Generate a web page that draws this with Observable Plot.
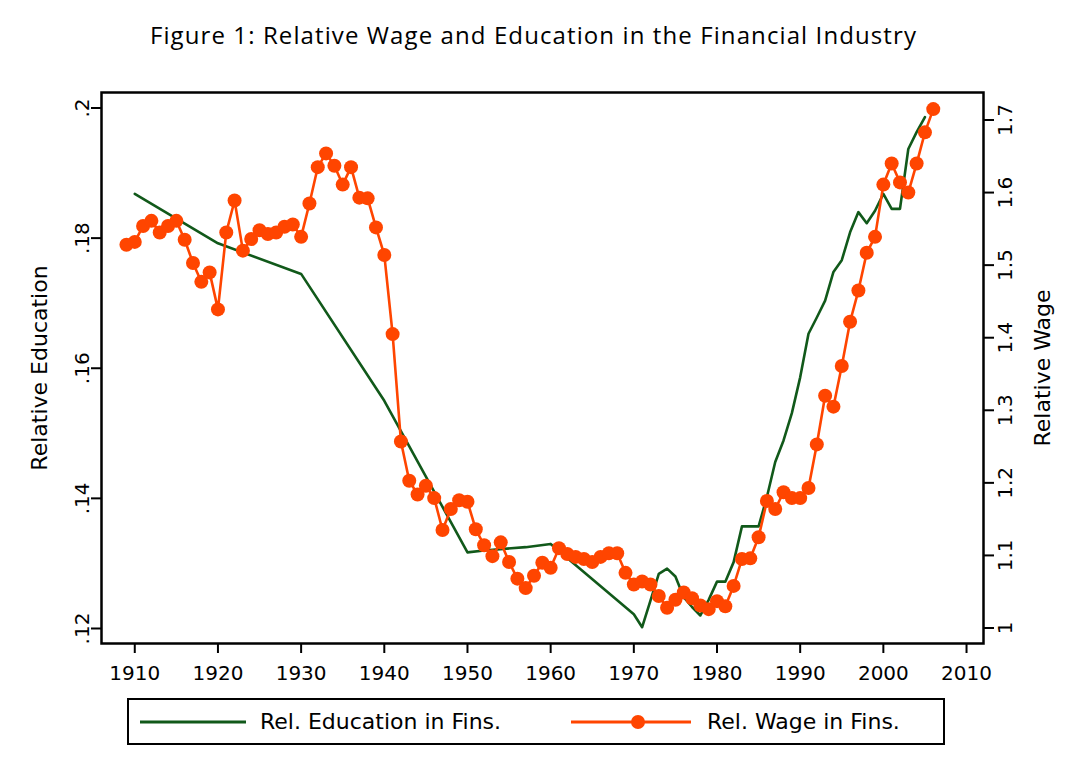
<!DOCTYPE html>
<html>
<head>
<meta charset="utf-8">
<script src="https://cdn.jsdelivr.net/npm/d3@7"></script>
<script src="https://cdn.jsdelivr.net/npm/@observablehq/plot@0.6"></script>
<style>
  body { margin: 0; background: #fff; }
  #wrap { position: relative; width: 1067px; height: 772px; background: #fff; overflow: hidden; }
  #title { position: absolute; left: 0; top: 20px; width: 1067px; text-align: center;
           font-family: "Open Sans", Lato, sans-serif; font-size: 24px; letter-spacing: 1.1px; line-height: 30px; color: #000; }
  #chart { position: absolute; left: 0; top: 60px; }
  #legend { position: absolute; left: 127px; top: 698px; width: 818px; height: 47px; box-sizing: border-box;
            border: 2px solid #000; font-family: "DejaVu Sans", sans-serif; font-size: 22px; color: #000; }
  #legend .item { position: absolute; top: 0; height: 43px; display: flex; align-items: center; }
  #legend svg { display: block; }
</style>
</head>
<body>
<div id="wrap">
  <div id="title">Figure 1: Relative Wage and Education in the Financial Industry</div>
  <div id="chart"></div>
  <div id="legend">
    <div class="item" style="left:10px;">
      <svg width="108" height="10"><line x1="1" x2="107" y1="5" y2="5" stroke="#11591a" stroke-width="3"/></svg>
    </div>
    <div class="item" style="left:131px;">Rel. Education in Fins.</div>
    <div class="item" style="left:441px;">
      <svg width="122" height="16"><line x1="1" x2="121" y1="8" y2="8" stroke="#ff4500" stroke-width="3"/><circle cx="68" cy="8" r="7" fill="#ff4500"/></svg>
    </div>
    <div class="item" style="left:578px;">Rel. Wage in Fins.</div>
  </div>
</div>
<script>
// ---- data ----
const eduYears = [1910, 1920, 1930, 1940, 1950, 1952, 1957, 1960, 1970, 1971, 1972, 1973, 1974, 1975, 1976, 1977, 1978, 1979,
  1980, 1981, 1982, 1983, 1984, 1985, 1986, 1987, 1988, 1989, 1990, 1991, 1992, 1993, 1994, 1995, 1996, 1997, 1998, 1999,
  2000, 2001, 2002, 2003, 2004, 2005];
const eduValues = [0.1868, 0.1792, 0.1745, 0.1550, 0.1317, 0.1320, 0.1325, 0.1330, 0.1222, 0.1202, 0.1243, 0.1284, 0.1292, 0.1280, 0.1248, 0.1233, 0.1220, 0.1244,
  0.1272, 0.1272, 0.1302, 0.1357, 0.1357, 0.1357, 0.1402, 0.1456, 0.1489, 0.1531, 0.1586, 0.1653, 0.1678, 0.1704, 0.1748, 0.1766, 0.1809, 0.1840, 0.1823, 0.1842,
  0.1868, 0.1845, 0.1845, 0.1937, 0.1963, 0.1986];

const wageYears = [1909, 1910, 1911, 1912, 1913, 1914, 1915, 1916, 1917, 1918, 1919,
  1920, 1921, 1922, 1923, 1924, 1925, 1926, 1927, 1928, 1929,
  1930, 1931, 1932, 1933, 1934, 1935, 1936, 1937, 1938, 1939,
  1940, 1941, 1942, 1943, 1944, 1945, 1946, 1947, 1948, 1949,
  1950, 1951, 1952, 1953, 1954, 1955, 1956, 1957, 1958, 1959,
  1960, 1961, 1962, 1963, 1964, 1965, 1966, 1967, 1968, 1969,
  1970, 1971, 1972, 1973, 1974, 1975, 1976, 1977, 1978, 1979,
  1980, 1981, 1982, 1983, 1984, 1985, 1986, 1987, 1988, 1989,
  1990, 1991, 1992, 1993, 1994, 1995, 1996, 1997, 1998, 1999,
  2000, 2001, 2002, 2003, 2004, 2005, 2006];
const wageValues = [1.528, 1.532, 1.554, 1.561, 1.545, 1.554, 1.561, 1.535, 1.503, 1.477, 1.490,
  1.439, 1.545, 1.589, 1.520, 1.536, 1.548, 1.543, 1.545, 1.553, 1.556,
  1.539, 1.585, 1.635, 1.654, 1.637, 1.611, 1.635, 1.593, 1.592, 1.552,
  1.514, 1.405, 1.257, 1.203, 1.184, 1.196, 1.179, 1.135, 1.164, 1.176,
  1.174, 1.136, 1.114, 1.099, 1.118, 1.091, 1.068, 1.055, 1.072, 1.090,
  1.083, 1.110, 1.102, 1.098, 1.095, 1.091, 1.098, 1.103, 1.103, 1.076,
  1.060, 1.064, 1.060, 1.044, 1.028, 1.039, 1.049, 1.041, 1.031, 1.026,
  1.037, 1.030, 1.058, 1.095, 1.096, 1.125, 1.175, 1.164, 1.187, 1.179,
  1.179, 1.193, 1.253, 1.320, 1.305, 1.361, 1.422, 1.465, 1.517, 1.539,
  1.611, 1.640, 1.614, 1.600, 1.640, 1.683, 1.715];

const xTicks = [1910, 1920, 1930, 1940, 1950, 1960, 1970, 1980, 1990, 2000, 2010];
const eduTicks = [0.12, 0.14, 0.16, 0.18, 0.2];
const eduTickLabels = [".12", ".14", ".16", ".18", ".2"];
const wageTicks = [1, 1.1, 1.2, 1.3, 1.4, 1.5, 1.6, 1.7];
const wageTickLabels = ["1", "1.1", "1.2", "1.3", "1.4", "1.5", "1.6", "1.7"];

// ---- dual-axis mapping (left: education, right: wage) ----
const eBot = 0.117694, eTop = 0.202382;   // left axis range across the frame
const wBot = 0.97864, wTop = 1.73789;     // right axis range across the frame
const toE = w => eBot + (w - wBot) / (wTop - wBot) * (eTop - eBot);

const edu = eduYears.map((year, i) => ({year, v: eduValues[i]}));
const wage = wageYears.map((year, i) => ({year, v: toE(wageValues[i])}));
const eduTickData = eduTicks.map((v, i) => ({v, label: eduTickLabels[i]}));
const wageTickData = wageTicks.map((w, i) => ({v: toE(w), label: wageTickLabels[i]}));

const GREEN = "#11591a", RED = "#ff4500";

const chart = Plot.plot({
  width: 1067,
  height: 628,
  marginTop: 32,
  marginBottom: 45,
  marginLeft: 101,
  marginRight: 84,
  x: {domain: [1906, 2012.04]},
  y: {domain: [eBot, eTop]},
  style: {fontFamily: "DejaVu Sans", fontSize: "20px", color: "#000", background: "#fff"},
  marks: [
    Plot.axisX(xTicks, {tickSize: 10, tickPadding: 12, strokeWidth: 2, fontSize: 20, tickFormat: d => String(d), label: null}),
    // y tick marks only (labels drawn below as rotated text)
    Plot.axisY(eduTicks, {anchor: "left", tickSize: 10, strokeWidth: 2, tickFormat: () => "", label: null}),
    Plot.axisY(wageTickData.map(d => d.v), {anchor: "right", tickSize: 10, strokeWidth: 2, tickFormat: () => "", label: null}),
    Plot.text(eduTickData, {y: "v", text: "label", frameAnchor: "left", dx: -13, rotate: -90,
      lineAnchor: "bottom", textAnchor: "middle", fontSize: 20}),
    Plot.text(wageTickData, {y: "v", text: "label", frameAnchor: "right", dx: 14, rotate: -90,
      lineAnchor: "top", textAnchor: "middle", fontSize: 20}),
    Plot.text(["Relative Education"], {text: d => d, frameAnchor: "left", dx: -55, rotate: -90,
      lineAnchor: "bottom", textAnchor: "middle", fontSize: 22}),
    Plot.text(["Relative Wage"], {text: d => d, frameAnchor: "right", dx: 51, rotate: -90,
      lineAnchor: "top", textAnchor: "middle", fontSize: 22}),
    Plot.line(edu, {x: "year", y: "v", stroke: GREEN, strokeWidth: 2.6}),
    Plot.line(wage, {x: "year", y: "v", stroke: RED, strokeWidth: 2.6}),
    Plot.dot(wage, {x: "year", y: "v", r: 7, fill: RED, stroke: "none"}),
    Plot.frame({stroke: "#000", strokeWidth: 2.5})
  ]
});
document.getElementById("chart").appendChild(chart);
</script>
</body>
</html>
